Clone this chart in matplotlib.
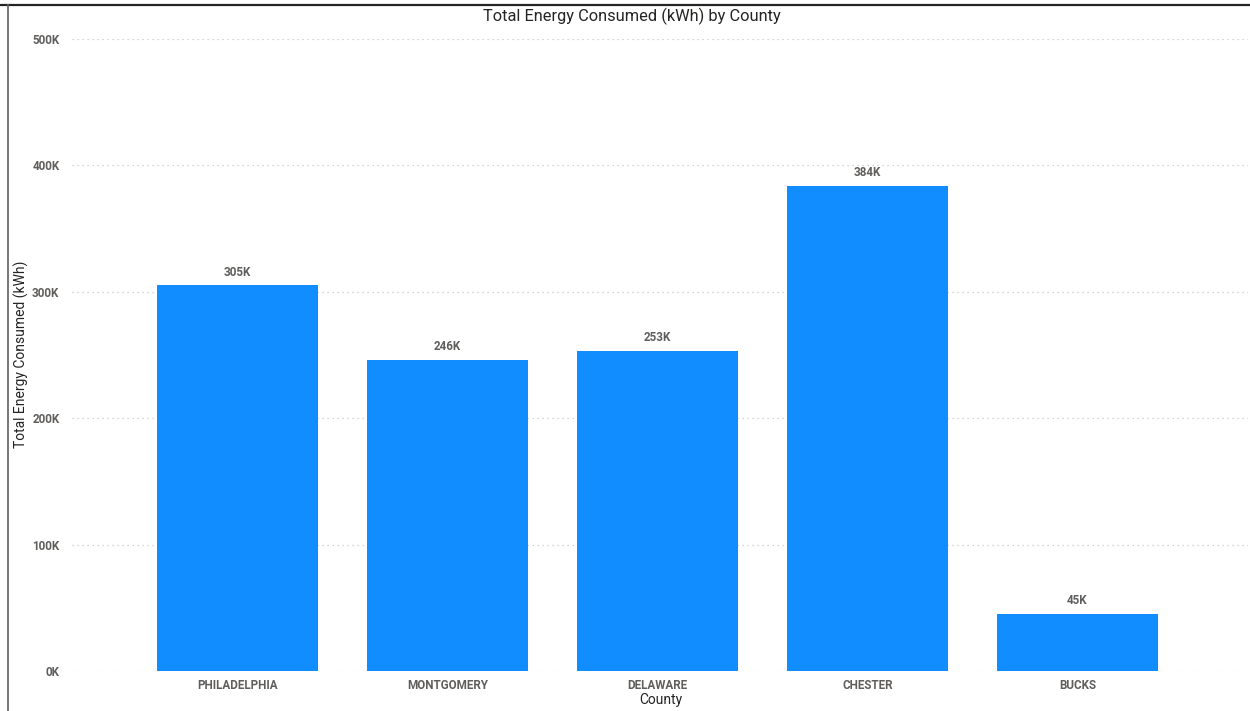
import matplotlib
matplotlib.use("Agg")
import matplotlib.pyplot as plt
from matplotlib.lines import Line2D

counties = ["PHILADELPHIA", "MONTGOMERY", "DELAWARE", "CHESTER", "BUCKS"]
energy_k = [305, 246, 253, 384, 45]
yticks_k = [0, 100, 200, 300, 400, 500]

W, H = 1250, 711
fig = plt.figure(figsize=(12.5, 7.11), dpi=100)
ax = fig.add_axes([72 / W, 1 - 671 / H, (1248 - 72) / W, (671 - 39) / H])

x = list(range(len(counties)))
vals = [v * 1000 for v in energy_k]
ax.bar(x, vals, width=0.767, color="#118DFF", zorder=3)

ax.set_xlim(-0.788, 4.812)
ax.set_ylim(0, 500000)
ax.set_yticks([t * 1000 for t in yticks_k])
ax.set_yticklabels([f"{t}K" for t in yticks_k])
ax.set_xticks(x)
ax.set_xticklabels(counties)

TF = "Roboto"
TS = 8.4
tick_font = dict(family=TF, size=TS, weight="bold", color="#605E5C")
for lbl in ax.get_yticklabels() + ax.get_xticklabels():
    lbl.set_fontfamily(TF)
    lbl.set_fontsize(TS)
    lbl.set_fontweight("bold")
    lbl.set_color("#605E5C")
ax.tick_params(axis="y", length=0, pad=9)
ax.tick_params(axis="x", length=0, pad=6)

ax.grid(axis="y", color="#C8C8C8", linestyle=(0, (1, 3)), linewidth=0.9, zorder=0)
for s in ax.spines.values():
    s.set_visible(False)

for xi, v in zip(x, energy_k):
    ax.annotate(f"{v}K", (xi, v * 1000), xytext=(0, 5), textcoords="offset points",
                ha="center", va="bottom", **tick_font)

fig.text(632 / W, 1 - 16 / H, "Total Energy Consumed (kWh) by County", fontfamily="Roboto",
         fontsize=11.8, color="#252423", ha="center", va="center")
fig.text(661 / W, 1 - 700 / H, "County", fontfamily="Roboto", fontsize=10,
         color="#252423", ha="center", va="center")
fig.text(21 / W, 1 - 354.5 / H, "Total Energy Consumed (kWh)", fontfamily="Roboto",
         fontsize=10, color="#252423", ha="center", va="center", rotation=90)

fig.add_artist(Line2D([0, 1], [1 - 4.5 / H, 1 - 4.5 / H], transform=fig.transFigure,
                      color="#252525", linewidth=1.6))
fig.add_artist(Line2D([7.5 / W, 7.5 / W], [0, 1 - 4.5 / H], transform=fig.transFigure,
                      color="#606060", linewidth=1.2))

fig.savefig("out.png", dpi=100)
